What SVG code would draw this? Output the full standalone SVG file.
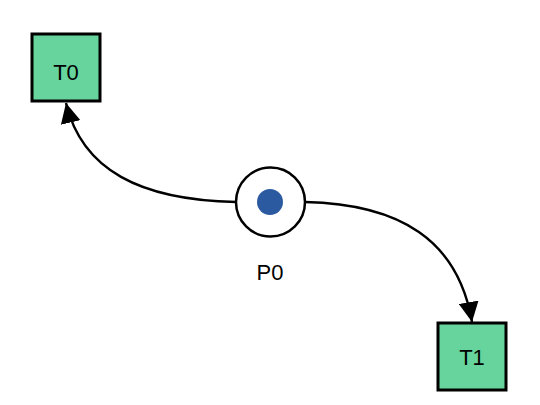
<svg xmlns="http://www.w3.org/2000/svg" width="540" height="405" viewBox="0 0 540 405">
<style>
.trans{fill:#66d49c;stroke:#000;stroke-width:3}
.place{fill:#fff;stroke:#000;stroke-width:2.5}
.tok{fill:#2c5aa0}
.lbl{font-family:"Liberation Sans",Arial,sans-serif;font-size:22px;fill:#000;text-anchor:middle;dominant-baseline:central}
.edge{fill:none;stroke:#000;stroke-width:2.4}
</style>
<defs>
<marker id="arr" markerUnits="userSpaceOnUse" markerWidth="22" markerHeight="20" refX="20" refY="10" orient="auto">
<path d="M0,0 L20,10 L0,20 Z" fill="#000"/>
</marker>
</defs>
<rect width="540" height="405" fill="#fff"/>
<g id="connectors">
<path class="edge" d="M236,202 C140,200 82,170 66,103" marker-end="url(#arr)"/>
<path class="edge" d="M305,202 C400,204 458,240 472,322" marker-end="url(#arr)"/>
</g>
<g id="T0">
<rect class="trans" x="32" y="34" width="68" height="67"/>
<text class="lbl" x="66" y="72">T0</text>
</g>
<g id="P0">
<circle class="place" cx="270.5" cy="202" r="34.5"/>
<circle class="tok" cx="270" cy="202" r="13"/>
<text class="lbl" x="270" y="272">P0</text>
</g>
<g id="T1">
<rect class="trans" x="438" y="323" width="68" height="67"/>
<text class="lbl" x="472" y="357">T1</text>
</g>
</svg>
